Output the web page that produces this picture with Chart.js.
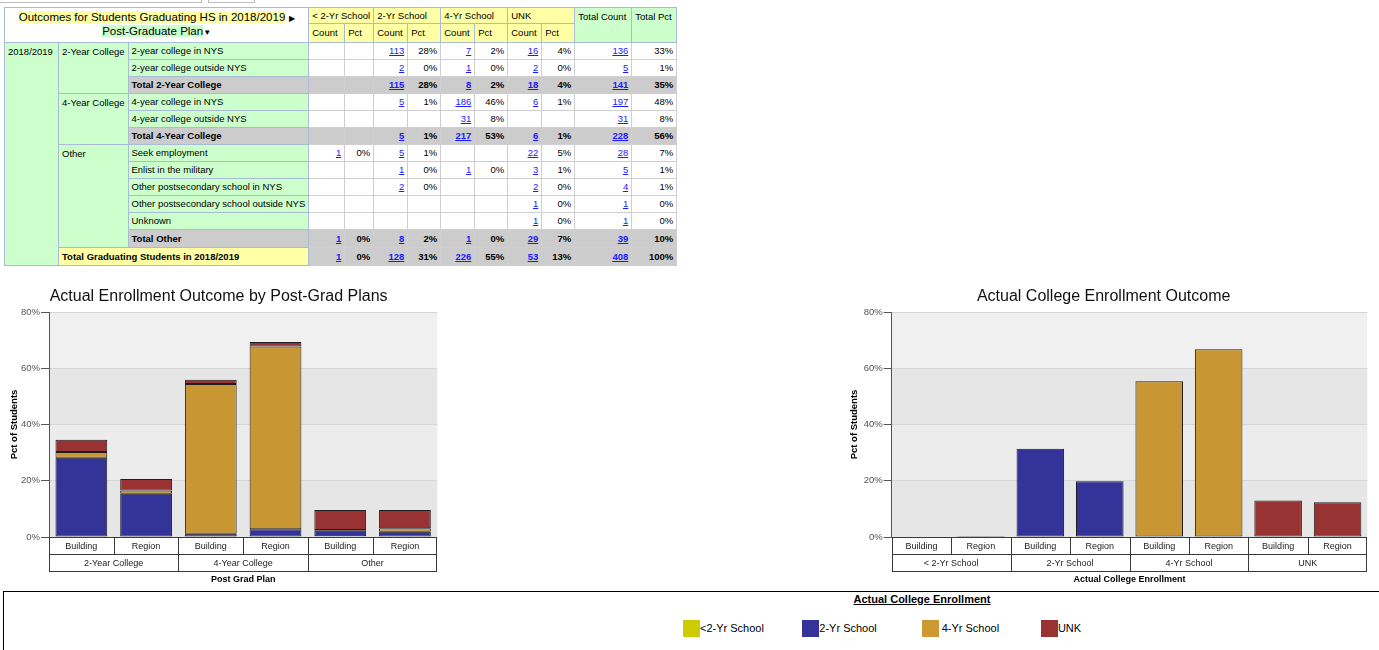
<!DOCTYPE html>
<html><head><meta charset="utf-8">
<script src="https://cdn.jsdelivr.net/npm/chart.js@4.4.0/dist/chart.umd.min.js"></script>
<style>
body{margin:0;width:1379px;height:650px;overflow:hidden;background:#fff;font-family:"Liberation Sans",Arial,sans-serif;position:relative;color:#000}
.tab{position:absolute;top:0;height:2px;border:1px solid #bdbdbd;border-top:none}
#tbl{position:absolute;left:4px;top:7px;border-collapse:collapse;table-layout:fixed;font-size:9.5px;border:1px solid #a9bcd6}
#tbl td{border:1px solid #cfcfcf;padding:0 3px;height:17px;box-sizing:border-box;white-space:nowrap;overflow:hidden;line-height:14px;vertical-align:middle}
#tbl td.hy{background:#ffffa6;border-color:#a9bcd6;text-align:left}
#tbl td.hg{background:#ccffcc;border-color:#a9bcd6}
#tbl td.gy{background:#ffffa6;border-color:#a9bcd6;font-weight:bold}
#tbl td.gr{background:#cccccc;font-weight:bold}
#tbl td.num{text-align:right}
#tbl td.top{vertical-align:top;padding-top:2px}
#tbl a{color:#1a1aff;text-decoration:underline}
#tbl td.ttl{text-align:center;font-size:11.5px;line-height:13px;background:#fff;border-color:#a9bcd6}
.box{position:absolute}
#legbox{position:absolute;left:3px;top:591px;width:1380px;height:70px;border-top:1px solid #000;border-left:1px solid #000}
#legtitle{position:absolute;left:822px;width:200px;top:593px;text-align:center;font-weight:bold;font-size:11px;text-decoration:underline}
.li{position:absolute;top:620px;height:17px;font-size:11px;line-height:17px;white-space:nowrap}
.sw{display:inline-block;width:17px;height:17px;vertical-align:top}
</style>
</head><body>
<div class="tab" style="left:-1px;width:201px"></div>
<div class="tab" style="left:208px;width:45px"></div>
<table id="tbl"></table>
<div class="box" style="left:0;top:285px;width:445px;height:305px"><canvas id="c1"></canvas></div>
<div class="box" style="left:840px;top:285px;width:539px;height:305px"><canvas id="c2"></canvas></div>
<div id="legbox"></div>
<div id="legtitle">Actual College Enrollment</div>
<div id="legend"></div>
<script>
// ---------- Table data ----------
const planRows = ['2-year college in NYS','2-year college outside NYS','Total 2-Year College',
  '4-year college in NYS','4-year college outside NYS','Total 4-Year College',
  'Seek employment','Enlist in the military','Other postsecondary school in NYS',
  'Other postsecondary school outside NYS','Unknown','Total Other','Total Graduating Students in 2018/2019'];
const planGroups = ['2-Year College','4-Year College','Other'];
const groupSpans = [3,3,6];
const totalRowIdx = [2,5,11];
const lt2Count = [null,null,null,null,null,null,1,null,null,null,null,1,1];
const lt2Pct   = [null,null,null,null,null,null,0,null,null,null,null,0,0];
const yr2Count = [113,2,115,5,null,5,5,1,2,null,null,8,128];
const yr2Pct   = [28,0,28,1,null,1,1,0,0,null,null,2,31];
const yr4Count = [7,1,8,186,31,217,null,1,null,null,null,1,226];
const yr4Pct   = [2,0,2,46,8,53,null,0,null,null,null,0,55];
const unkCount = [16,2,18,6,null,6,22,3,2,1,1,29,53];
const unkPct   = [4,0,4,1,null,1,5,1,0,0,0,7,13];
const totCount = [136,5,141,197,31,228,28,5,4,1,1,39,408];
const totPct   = [33,1,35,48,8,56,7,1,1,0,0,10,100];
const enrollHeaders = ['< 2-Yr School','2-Yr School','4-Yr School','UNK'];

// ---------- Chart data ----------
const subCats = ['Building','Region'];
const leftGroups = ['2-Year College','4-Year College','Other'];
const leftLt2 = [0, 0, 0, 0, 0.25, 0];
const left2Yr = [28.2, 15.4, 1.2, 2.8, 2.0, 1.9];
const left4Yr = [2.0, 1.1, 53.2, 64.9, 0.25, 1.2];
const leftUnk = [4.4, 4.1, 1.5, 1.6, 7.1, 6.5];
const rightGroups = ['< 2-Yr School','2-Yr School','4-Yr School','UNK'];
const rightBuilding = [0, 31.4, 55.4, 13.0];
const rightRegion = [0.4, 19.8, 66.8, 12.4];
const seriesNames = ['<2-Yr School','2-Yr School','4-Yr School','UNK'];
const seriesColors = ['#cccc00','#333399','#c89633','#993333'];
const yTicks = [0,20,40,60,80];

// ---------- Build table ----------
(function(){
  const widths=[54,69,178,36,29,34,33,34,33,34,33,57,45];
  let h='<colgroup>'+widths.map(w=>'<col style="width:'+w+'px">').join('')+'</colgroup>';
  h+='<tr style="height:16px"><td class="ttl" colspan="3" rowspan="2"><span style="background:#ffffa6">Outcomes for Students Graduating HS in 2018/2019</span> <span style="font-size:8px">&#9654;</span><br><span style="background:#ccffcc">Post-Graduate Plan</span><span style="font-size:8px">&#9660;</span></td>';
  enrollHeaders.forEach(e=>{h+='<td class="hy" colspan="2" style="height:16px">'+e+'</td>';});
  h+='<td class="hg top" rowspan="2">Total Count</td><td class="hg top" rowspan="2">Total Pct</td></tr>';
  h+='<tr style="height:19px">';
  enrollHeaders.forEach(()=>{h+='<td class="hy" style="height:19px">Count</td><td class="hy" style="height:19px">Pct</td>';});
  h+='</tr>';
  const cols=[[lt2Count,lt2Pct],[yr2Count,yr2Pct],[yr4Count,yr4Pct],[unkCount,unkPct],[totCount,totPct]];
  let gi=0, gStart=0;
  for(let r=0;r<planRows.length;r++){
    const isTot = totalRowIdx.includes(r);
    const isGrand = r===planRows.length-1;
    h+='<tr style="height:'+(r>=11?18:17)+'px">';
    if(r===0) h+='<td class="hg top" rowspan="'+planRows.length+'">2018/2019</td>';
    if(isGrand){
      h+='<td class="gy" colspan="2">'+planRows[r]+'</td>';
    } else {
      if(r===gStart){ h+='<td class="hg top" rowspan="'+groupSpans[gi]+'">'+planGroups[gi]+'</td>'; }
      h+='<td class="'+(isTot?'gr':'hg')+'"'+(isTot?' style="border-color:#a9bcd6"':'')+'>'+planRows[r]+'</td>';
    }
    const cls = (isTot||isGrand)?'num gr':'num';
    cols.forEach(([cArr,pArr])=>{
      const c=cArr[r], p=pArr[r];
      h+='<td class="'+cls+'">'+(c==null?'':'<a>'+c+'</a>')+'</td>';
      h+='<td class="'+cls+'">'+(p==null?'':p+'%')+'</td>';
    });
    h+='</tr>';
    if(!isGrand && r===gStart+groupSpans[gi]-1){ gStart+=groupSpans[gi]; gi++; }
  }
  document.getElementById('tbl').innerHTML=h;
})();

// ---------- Legend ----------
(function(){
  let h='';
  seriesNames.forEach((n,i)=>{
    const left = 683 + i*119.3;
    h+='<div class="li" style="left:'+left+'px"><span class="sw" style="background:'+(i===2?'#cc9933':seriesColors[i])+'"></span>'+(i===2?'&nbsp;':'')+n+'</div>';
  });
  document.getElementById('legend').innerHTML=h;
})();

// ---------- Charts ----------
const FONT = '"Liberation Sans", Arial, sans-serif';
Chart.defaults.font.family = FONT;

const bandsPlugin = {
  id:'bands',
  beforeDraw(chart){
    const {ctx, chartArea:a, scales:{y}} = chart;
    const cols=['#e6e6e6','#ececec','#e6e6e6','#f0f0f0'];
    ctx.save();
    for(let i=0;i<yTicks.length-1;i++){
      const t=y.getPixelForValue(yTicks[i+1]), b=y.getPixelForValue(yTicks[i]);
      ctx.fillStyle=cols[i];
      ctx.fillRect(a.left,t,a.right-a.left,b-t);
    }
    ctx.restore();
  }
};
const boxPlugin = {
  id:'boxes',
  afterDraw(chart){
    const ctx=chart.ctx, x=chart.scales.x, x2=chart.scales.x2;
    const a=chart.chartArea;
    const L=Math.round(a.left)+0.5, R=Math.round(a.right)-0.5;
    const r1t=Math.round(x.top)+0.5, r1b=Math.round(x.bottom)+0.5;
    const r2b=Math.round(x.bottom + (x.bottom-x.top))+0.5;
    ctx.save();
    ctx.strokeStyle='#3a3a3a'; ctx.lineWidth=1;
    ctx.strokeRect(L,r1t,R-L,r1b-r1t);
    ctx.strokeRect(L,r1b,R-L,r2b-r1b);
    const n=x.getLabels().length;
    ctx.beginPath();
    for(let i=1;i<n;i++){
      const px=Math.round((x.getPixelForValue(i-1)+x.getPixelForValue(i))/2)+0.5;
      ctx.moveTo(px,r1t); ctx.lineTo(px,r1b);
    }
    const m=x2.getLabels().length;
    for(let i=1;i<m;i++){
      const px=Math.round((x2.getPixelForValue(i-1)+x2.getPixelForValue(i))/2)+0.5;
      ctx.moveTo(px,r1b); ctx.lineTo(px,r2b);
    }
    ctx.stroke();
    ctx.restore();
  }
};

function makeOptions(title, xTitle, groups, yWidth, padRight){
  return {
    responsive:true, maintainAspectRatio:false, animation:false,
    layout:{padding:{left:0,right:padRight,top:0,bottom:0}},
    plugins:{
      legend:{display:false}, tooltip:{enabled:false},
      title:{display:true,text:title,color:'#111',font:{size:16,weight:'normal',family:FONT},padding:{top:2,bottom:5.8}}
    },
    datasets:{bar:{barPercentage:0.8,categoryPercentage:1.0,borderColor:'#1e1e1e',borderWidth:1,borderSkipped:false}},
    scales:{
      x:{stacked:true,offset:true,grid:{display:false,drawTicks:false},border:{display:false},
         ticks:{font:{size:9},color:'#222',padding:4,maxRotation:0,autoSkip:false},
         afterFit(s){s.height=17;}},
      x2:{type:'category',labels:groups,position:'bottom',offset:true,grid:{display:false,drawTicks:false},border:{display:false},
         ticks:{font:{size:9},color:'#222',padding:4,maxRotation:0,autoSkip:false},
         title:{display:true,text:xTitle,color:'#000',font:{size:9,weight:'bold'},padding:{top:0,bottom:5}},
         afterFit(s){s.height=36;}},
      y:{stacked:true,min:0,max:80,
         ticks:{stepSize:20,callback:v=>v+'%',font:{size:9.5},color:'#555',padding:1},
         grid:{color:'#d6d6d6',tickColor:'#555',tickLength:8},
         border:{color:'#555'},
         title:{display:true,text:'Pct of Students',color:'#000',font:{size:9.5,weight:'bold'},padding:{top:8.6,bottom:0}},
         afterFit(s){s.width=yWidth;}}
    }
  };
}

const leftLabels = leftGroups.flatMap(()=>subCats);
new Chart(document.getElementById('c1'),{
  type:'bar',
  data:{labels:leftLabels,datasets:[leftLt2,left2Yr,left4Yr,leftUnk].map((d,i)=>({label:seriesNames[i],data:d,backgroundColor:seriesColors[i]}))},
  options:makeOptions('Actual Enrollment Outcome by Post-Grad Plans','Post Grad Plan',leftGroups,49,7.7),
  plugins:[bandsPlugin,boxPlugin]
});

const rightLabels = rightGroups.flatMap(()=>subCats);
const rightDatasets = rightGroups.map((g,gi)=>({
  label:seriesNames[gi],
  data:rightLabels.map((_,k)=> Math.floor(k/2)===gi ? (k%2===0?rightBuilding[gi]:rightRegion[gi]) : null),
  backgroundColor:seriesColors[gi]
}));
new Chart(document.getElementById('c2'),{
  type:'bar',
  data:{labels:rightLabels,datasets:rightDatasets},
  options:makeOptions('Actual College Enrollment Outcome','Actual College Enrollment',rightGroups,51.7,11.7),
  plugins:[bandsPlugin,boxPlugin]
});
</script>
</body></html>
